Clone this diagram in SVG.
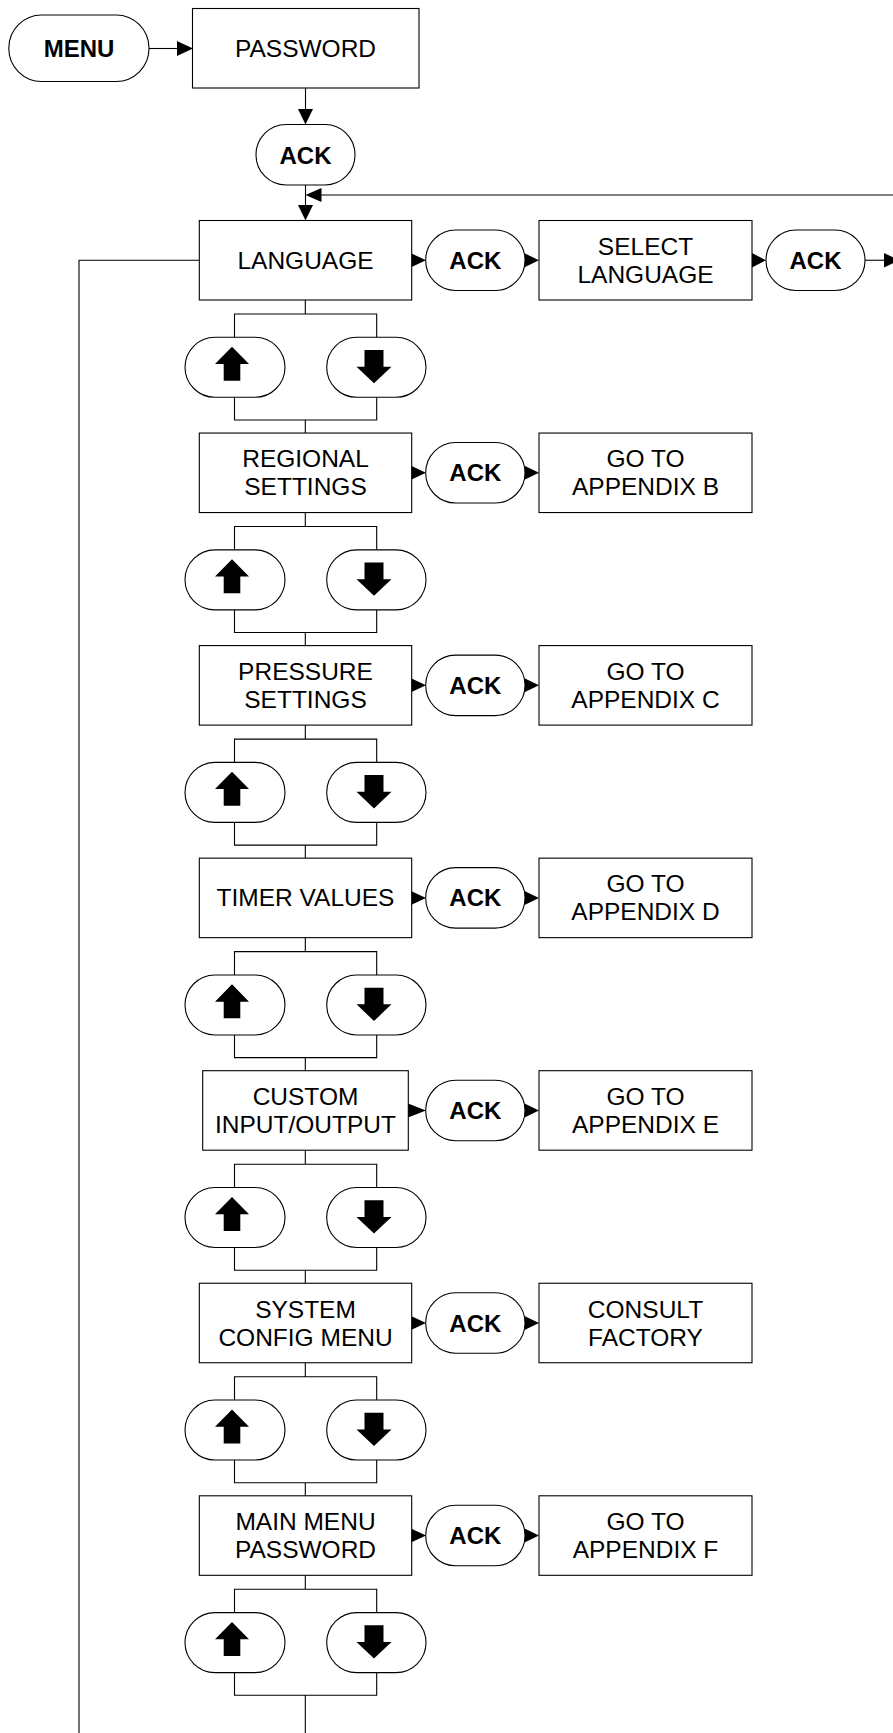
<svg xmlns="http://www.w3.org/2000/svg" width="893" height="1733" viewBox="0 0 893 1733">
<defs>
<style>
.box{fill:#fff;stroke:#000;stroke-width:1.1}
.pill{fill:#fff;stroke:#000;stroke-width:1.1}
.ln{fill:none;stroke:#000;stroke-width:1.1}
.ah{fill:#000;stroke:none}
.t{font-family:"Liberation Sans",Arial,sans-serif;font-size:24.5px;fill:#000;text-anchor:middle}
.b{font-family:"Liberation Sans",Arial,sans-serif;font-size:24px;font-weight:bold;fill:#000;text-anchor:middle}
.ic{fill:#000}
</style>
<path id="up" d="M0,0 L17,17.3 L8.3,17.3 L8.3,34 L-8.3,34 L-8.3,17.3 L-17,17.3 Z"/>
<path id="dn" d="M-9.5,0 L9.5,0 L9.5,16.7 L17.5,16.7 L0,33.3 L-17.5,16.7 L-9.5,16.7 Z"/>
</defs>
<rect width="893" height="1733" fill="#fff"/>

<g id="connectors">
  <path class="ln" d="M149,48.5 H178"/>
  <polygon class="ah" points="177,41 193,48.5 177,56"/>
  <path class="ln" d="M305.5,88 V110"/>
  <polygon class="ah" points="298,109 305.5,124.5 313,109"/>
  <path class="ln" d="M305.5,185 V206"/>
  <polygon class="ah" points="298,205 305.5,220.5 313,205"/>
  <path class="ln" d="M893,195 H320"/>
  <polygon class="ah" points="321.5,188 305.5,195 321.5,202"/>
  <path class="ln" d="M199.3,260.25 H79 V1733"/>
  <!-- row 0 extras -->
  <polygon class="ah" points="752,253 766,260.25 752,267.5"/>
  <path class="ln" d="M865,260.25 H885"/>
  <polygon class="ah" points="884,253 899,260.25 884,267.5"/>
  <g transform="translate(0,220.5)">
    <polygon class="ah" points="411,32.75 426,39.75 411,46.75"/>
    <polygon class="ah" points="524.5,32.75 539,39.75 524.5,46.75"/>
    <path class="ln" d="M305.3,79.5 V93.5 M234.5,116.8 V93.5 H376.7 V116.8 M234.5,176.8 V199.5 H376.7 V176.8 M305.3,199.5 V212.55"/>
  </g>
  <g transform="translate(0,433.05)">
    <polygon class="ah" points="411,32.75 426,39.75 411,46.75"/>
    <polygon class="ah" points="524.5,32.75 539,39.75 524.5,46.75"/>
    <path class="ln" d="M305.3,79.5 V93.5 M234.5,116.8 V93.5 H376.7 V116.8 M234.5,176.8 V199.5 H376.7 V176.8 M305.3,199.5 V212.55"/>
  </g>
  <g transform="translate(0,645.6)">
    <polygon class="ah" points="411,32.75 426,39.75 411,46.75"/>
    <polygon class="ah" points="524.5,32.75 539,39.75 524.5,46.75"/>
    <path class="ln" d="M305.3,79.5 V93.5 M234.5,116.8 V93.5 H376.7 V116.8 M234.5,176.8 V199.5 H376.7 V176.8 M305.3,199.5 V212.55"/>
  </g>
  <g transform="translate(0,858.15)">
    <polygon class="ah" points="411,32.75 426,39.75 411,46.75"/>
    <polygon class="ah" points="524.5,32.75 539,39.75 524.5,46.75"/>
    <path class="ln" d="M305.3,79.5 V93.5 M234.5,116.8 V93.5 H376.7 V116.8 M234.5,176.8 V199.5 H376.7 V176.8 M305.3,199.5 V212.55"/>
  </g>
  <g transform="translate(0,1070.7)">
    <polygon class="ah" points="408,32.75 426,39.75 408,46.75"/>
    <polygon class="ah" points="524.5,32.75 539,39.75 524.5,46.75"/>
    <path class="ln" d="M305.3,79.5 V93.5 M234.5,116.8 V93.5 H376.7 V116.8 M234.5,176.8 V199.5 H376.7 V176.8 M305.3,199.5 V212.55"/>
  </g>
  <g transform="translate(0,1283.25)">
    <polygon class="ah" points="411,32.75 426,39.75 411,46.75"/>
    <polygon class="ah" points="524.5,32.75 539,39.75 524.5,46.75"/>
    <path class="ln" d="M305.3,79.5 V93.5 M234.5,116.8 V93.5 H376.7 V116.8 M234.5,176.8 V199.5 H376.7 V176.8 M305.3,199.5 V212.55"/>
  </g>
  <g transform="translate(0,1495.8)">
    <polygon class="ah" points="411,32.75 426,39.75 411,46.75"/>
    <polygon class="ah" points="524.5,32.75 539,39.75 524.5,46.75"/>
    <path class="ln" d="M305.3,79.5 V93.5 M234.5,116.8 V93.5 H376.7 V116.8 M234.5,176.8 V199.5 H376.7 V176.8 M305.3,199.5 V240"/>
  </g>
</g>

<g id="menu">
  <rect class="pill" x="8.8" y="15" width="140.2" height="66.5" rx="33"/>
  <text class="b" x="79" y="56.5">MENU</text>
</g>
<g id="password">
  <rect class="box" x="192.5" y="8.5" width="226.5" height="79.5"/>
  <text class="t" x="305.5" y="56.5">PASSWORD</text>
</g>
<g id="ack-top">
  <rect class="pill" x="256" y="124.5" width="99" height="60.5" rx="30"/>
  <text class="b" x="305.5" y="163.5">ACK</text>
</g>

<!-- Row 0 -->
<g id="row0" transform="translate(0,220.5)">
  <g id="language"><rect class="box" x="199.3" y="0" width="212.4" height="79.5"/><text class="t" x="305.5" y="48.25">LANGUAGE</text></g>
  <g id="ack0"><rect class="pill" x="425.7" y="9.5" width="99.3" height="60.5" rx="30"/><text class="b" x="475.3" y="48.25">ACK</text></g>
  <g id="select-language"><rect class="box" x="539" y="0" width="213" height="79.5"/><text class="t" x="645.5" y="34.25">SELECT</text><text class="t" x="645.5" y="62.25">LANGUAGE</text></g>
  <g id="ack0b"><rect class="pill" x="766" y="9.5" width="99" height="60.5" rx="30"/><text class="b" x="815.5" y="48.25">ACK</text></g>
  <g id="up0"><rect class="pill" x="185" y="116.8" width="100" height="60" rx="30"/><use href="#up" x="232" y="126.2"/></g>
  <g id="dn0"><rect class="pill" x="326.7" y="116.8" width="99.3" height="60" rx="30"/><use href="#dn" x="374" y="129.5"/></g>
</g>

<!-- Row 1 -->
<g id="row1" transform="translate(0,433.05)">
  <g id="regional"><rect class="box" x="199.3" y="0" width="212.4" height="79.5"/><text class="t" x="305.5" y="34.25">REGIONAL</text><text class="t" x="305.5" y="62.25">SETTINGS</text></g>
  <g id="ack1"><rect class="pill" x="425.7" y="9.5" width="99.3" height="60.5" rx="30"/><text class="b" x="475.3" y="48.25">ACK</text></g>
  <g id="appB"><rect class="box" x="539" y="0" width="213" height="79.5"/><text class="t" x="645.5" y="34.25">GO TO</text><text class="t" x="645.5" y="62.25">APPENDIX B</text></g>
  <g id="up1"><rect class="pill" x="185" y="116.8" width="100" height="60" rx="30"/><use href="#up" x="232" y="126.2"/></g>
  <g id="dn1"><rect class="pill" x="326.7" y="116.8" width="99.3" height="60" rx="30"/><use href="#dn" x="374" y="129.5"/></g>
</g>

<!-- Row 2 -->
<g id="row2" transform="translate(0,645.6)">
  <g id="pressure"><rect class="box" x="199.3" y="0" width="212.4" height="79.5"/><text class="t" x="305.5" y="34.25">PRESSURE</text><text class="t" x="305.5" y="62.25">SETTINGS</text></g>
  <g id="ack2"><rect class="pill" x="425.7" y="9.5" width="99.3" height="60.5" rx="30"/><text class="b" x="475.3" y="48.25">ACK</text></g>
  <g id="appC"><rect class="box" x="539" y="0" width="213" height="79.5"/><text class="t" x="645.5" y="34.25">GO TO</text><text class="t" x="645.5" y="62.25">APPENDIX C</text></g>
  <g id="up2"><rect class="pill" x="185" y="116.8" width="100" height="60" rx="30"/><use href="#up" x="232" y="126.2"/></g>
  <g id="dn2"><rect class="pill" x="326.7" y="116.8" width="99.3" height="60" rx="30"/><use href="#dn" x="374" y="129.5"/></g>
</g>

<!-- Row 3 -->
<g id="row3" transform="translate(0,858.15)">
  <g id="timer"><rect class="box" x="199.3" y="0" width="212.4" height="79.5"/><text class="t" x="305.5" y="48.25">TIMER VALUES</text></g>
  <g id="ack3"><rect class="pill" x="425.7" y="9.5" width="99.3" height="60.5" rx="30"/><text class="b" x="475.3" y="48.25">ACK</text></g>
  <g id="appD"><rect class="box" x="539" y="0" width="213" height="79.5"/><text class="t" x="645.5" y="34.25">GO TO</text><text class="t" x="645.5" y="62.25">APPENDIX D</text></g>
  <g id="up3"><rect class="pill" x="185" y="116.8" width="100" height="60" rx="30"/><use href="#up" x="232" y="126.2"/></g>
  <g id="dn3"><rect class="pill" x="326.7" y="116.8" width="99.3" height="60" rx="30"/><use href="#dn" x="374" y="129.5"/></g>
</g>

<!-- Row 4 -->
<g id="row4" transform="translate(0,1070.7)">
  <g id="custom"><rect class="box" x="202.7" y="0" width="205.6" height="79.5"/><text class="t" x="305.5" y="34.25">CUSTOM</text><text class="t" x="305.5" y="62.25">INPUT/OUTPUT</text></g>
  <g id="ack4"><rect class="pill" x="425.7" y="9.5" width="99.3" height="60.5" rx="30"/><text class="b" x="475.3" y="48.25">ACK</text></g>
  <g id="appE"><rect class="box" x="539" y="0" width="213" height="79.5"/><text class="t" x="645.5" y="34.25">GO TO</text><text class="t" x="645.5" y="62.25">APPENDIX E</text></g>
  <g id="up4"><rect class="pill" x="185" y="116.8" width="100" height="60" rx="30"/><use href="#up" x="232" y="126.2"/></g>
  <g id="dn4"><rect class="pill" x="326.7" y="116.8" width="99.3" height="60" rx="30"/><use href="#dn" x="374" y="129.5"/></g>
</g>

<!-- Row 5 -->
<g id="row5" transform="translate(0,1283.25)">
  <g id="sysconfig"><rect class="box" x="199.3" y="0" width="212.4" height="79.5"/><text class="t" x="305.5" y="34.25">SYSTEM</text><text class="t" x="305.5" y="62.25">CONFIG MENU</text></g>
  <g id="ack5"><rect class="pill" x="425.7" y="9.5" width="99.3" height="60.5" rx="30"/><text class="b" x="475.3" y="48.25">ACK</text></g>
  <g id="consult"><rect class="box" x="539" y="0" width="213" height="79.5"/><text class="t" x="645.5" y="34.25">CONSULT</text><text class="t" x="645.5" y="62.25">FACTORY</text></g>
  <g id="up5"><rect class="pill" x="185" y="116.8" width="100" height="60" rx="30"/><use href="#up" x="232" y="126.2"/></g>
  <g id="dn5"><rect class="pill" x="326.7" y="116.8" width="99.3" height="60" rx="30"/><use href="#dn" x="374" y="129.5"/></g>
</g>

<!-- Row 6 -->
<g id="row6" transform="translate(0,1495.8)">
  <g id="mainmenupw"><rect class="box" x="199.3" y="0" width="212.4" height="79.5"/><text class="t" x="305.5" y="34.25">MAIN MENU</text><text class="t" x="305.5" y="62.25">PASSWORD</text></g>
  <g id="ack6"><rect class="pill" x="425.7" y="9.5" width="99.3" height="60.5" rx="30"/><text class="b" x="475.3" y="48.25">ACK</text></g>
  <g id="appF"><rect class="box" x="539" y="0" width="213" height="79.5"/><text class="t" x="645.5" y="34.25">GO TO</text><text class="t" x="645.5" y="62.25">APPENDIX F</text></g>
  <g id="up6"><rect class="pill" x="185" y="116.8" width="100" height="60" rx="30"/><use href="#up" x="232" y="126.2"/></g>
  <g id="dn6"><rect class="pill" x="326.7" y="116.8" width="99.3" height="60" rx="30"/><use href="#dn" x="374" y="129.5"/></g>
</g>
</svg>
